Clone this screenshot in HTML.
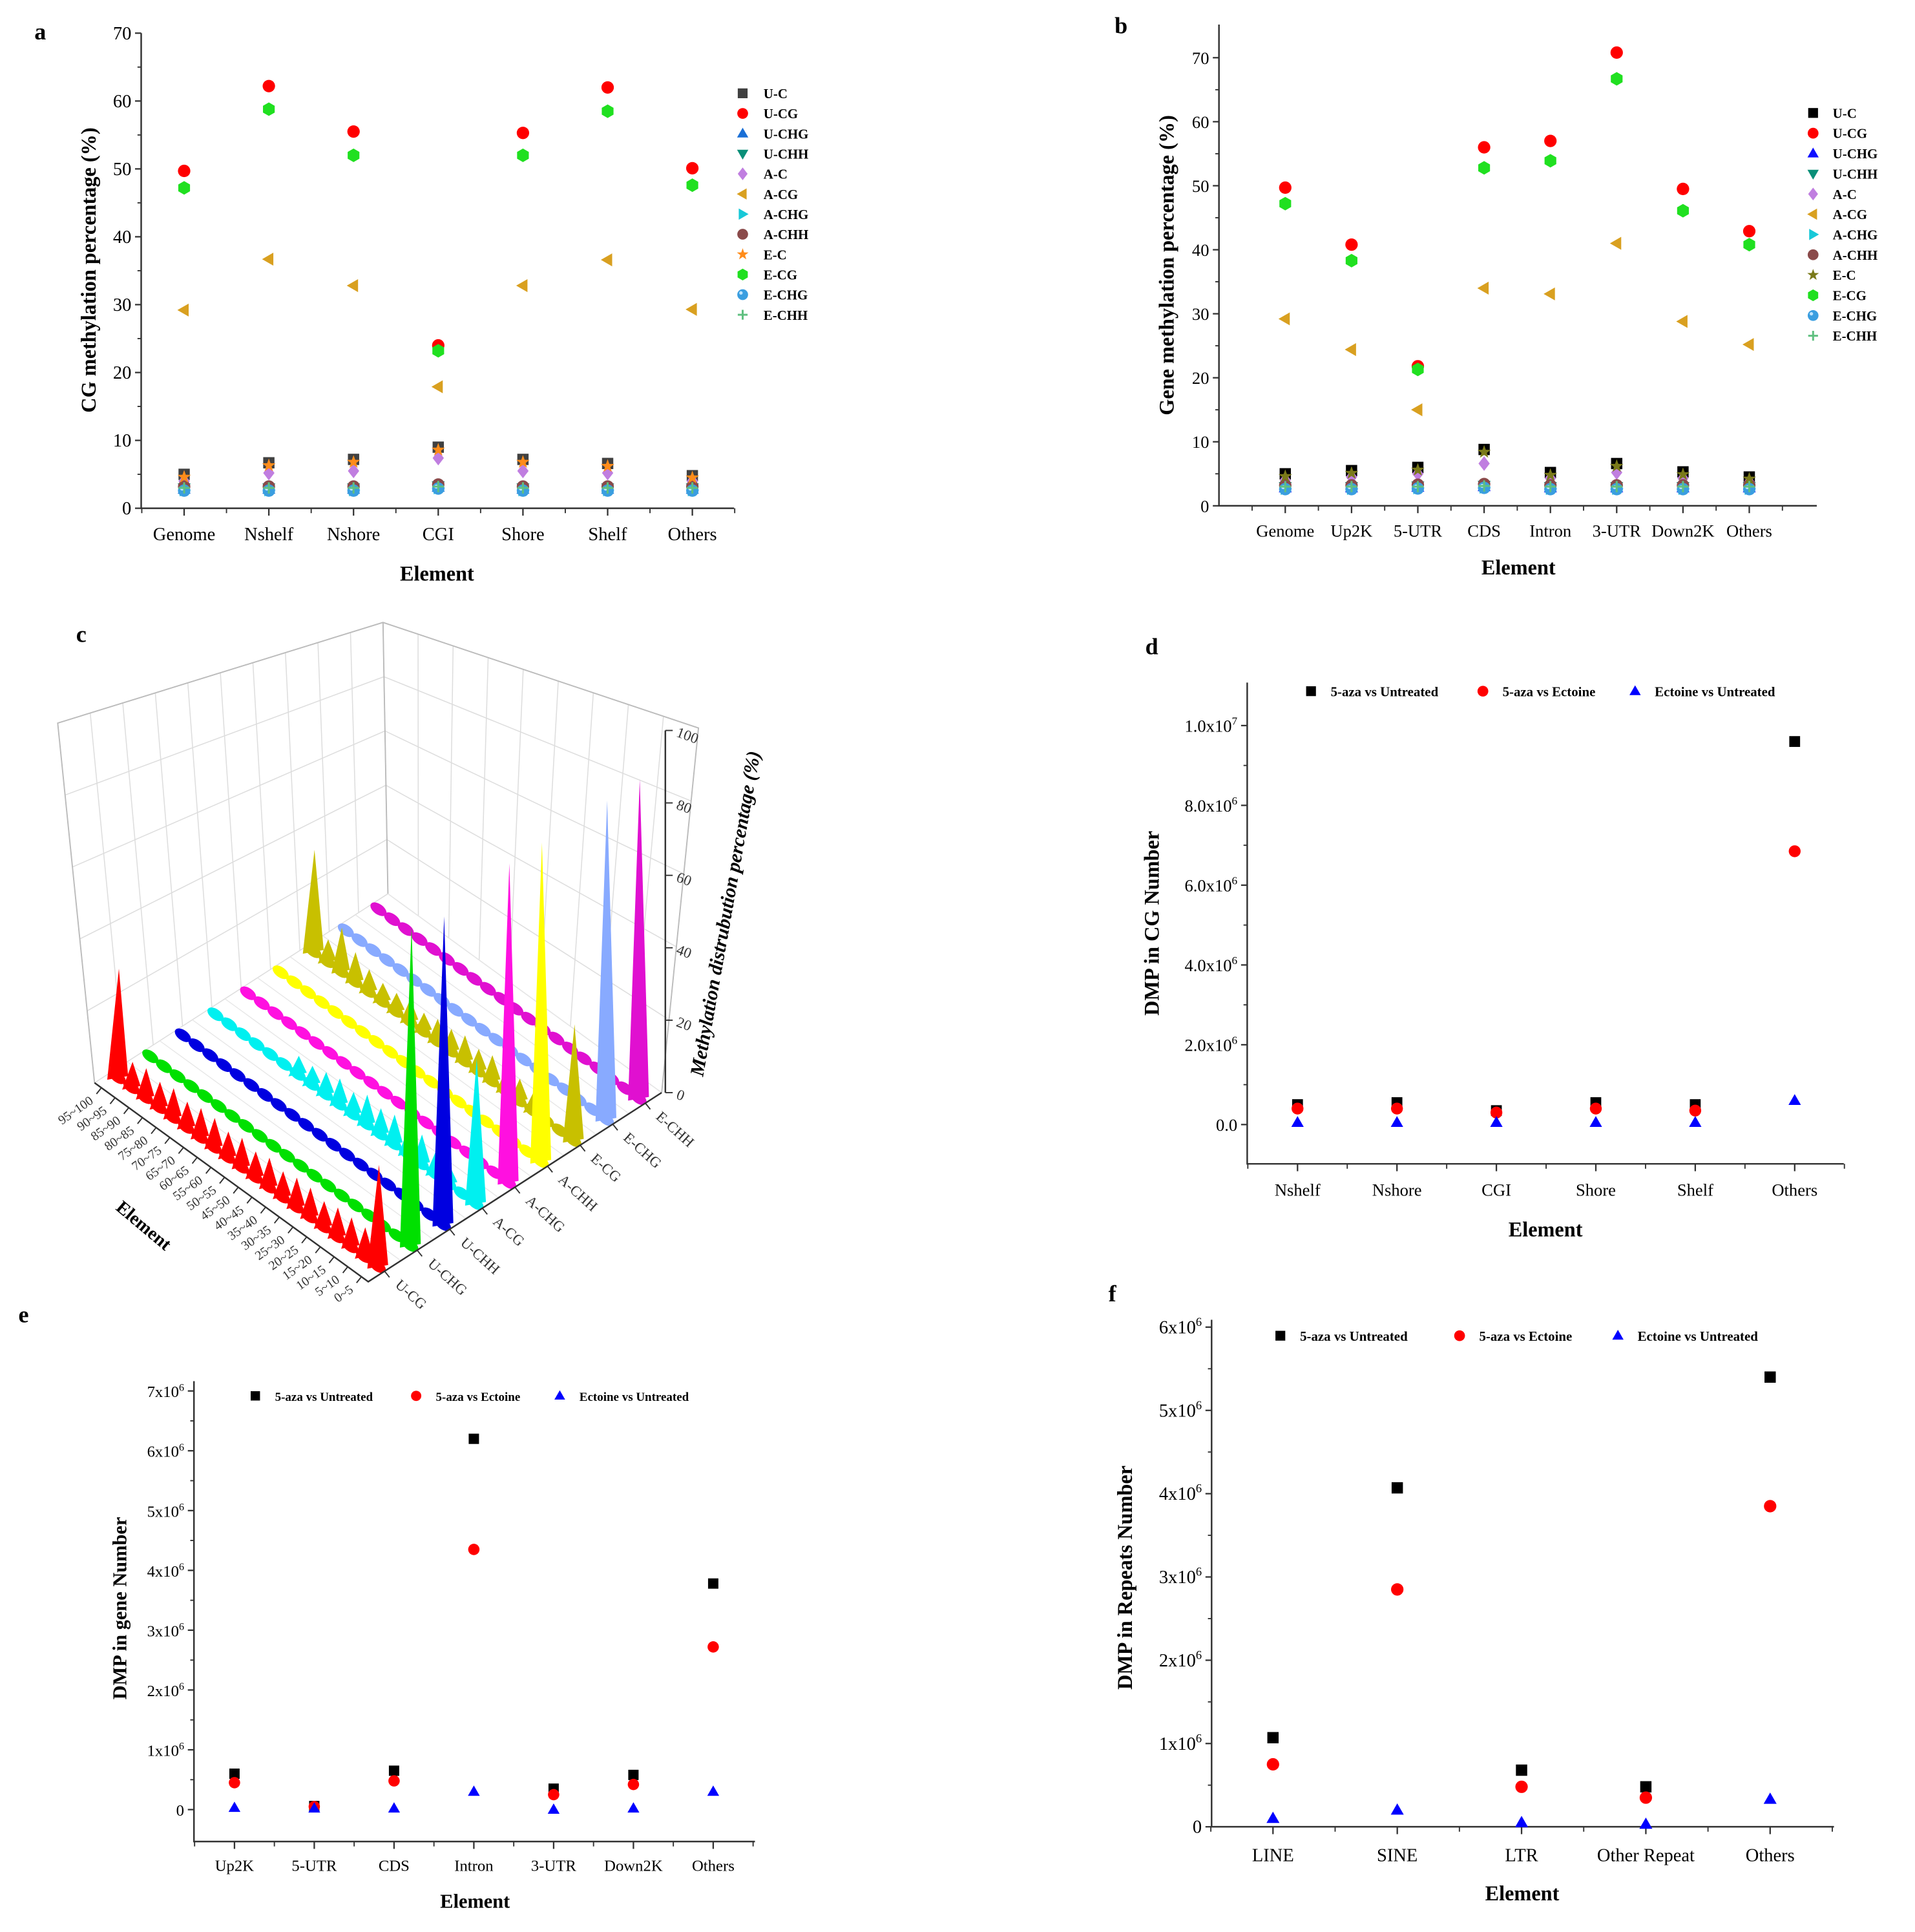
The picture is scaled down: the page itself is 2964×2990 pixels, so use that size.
<!DOCTYPE html>
<html><head><meta charset="utf-8"><style>
html,body{margin:0;padding:0;background:#fff}
svg{display:block}
text{font-family:"Liberation Serif",serif}
</style></head><body>
<svg id="root" width="2964" height="2990" viewBox="0 0 1560 1573.7" xmlns="http://www.w3.org/2000/svg">
<rect width="1560" height="1574" fill="#fff"/>
<g id="ga"></g>
<g id="gb"></g>
<g id="gc"></g>
<g id="gd"></g>
<g id="ge"></g>
<g id="gf"></g>
</svg>
<script>
// ---------- data ----------
const aCats = ["Genome","Nshelf","Nshore","CGI","Shore","Shelf","Others"];
const aUC   = [5.0,6.7,7.2,9.0,7.2,6.6,4.8];
const aUCG  = [49.7,62.2,55.5,24.0,55.3,62.0,50.1];
const aUCHG = [2.8,2.8,2.8,3.1,2.8,2.8,2.8];
const aUCHH = [3.0,3.0,3.0,3.3,3.0,3.0,3.0];
const aAC   = [4.0,5.2,5.5,7.4,5.5,5.2,4.0];
const aACG  = [29.2,36.7,32.8,17.9,32.8,36.6,29.3];
const aACHG = [2.7,2.7,2.7,3.0,2.7,2.7,2.7];
const aACHH = [3.2,3.2,3.2,3.5,3.2,3.2,3.2];
const aEC   = [4.6,6.3,6.8,8.6,6.8,6.2,4.5];
const aECG  = [47.2,58.8,52.0,23.2,52.0,58.5,47.6];
const aECHG = [2.6,2.6,2.6,2.9,2.6,2.6,2.6];
const aECHH = [3.0,3.0,3.0,3.2,3.0,3.0,3.0];
const aTicks = [0,10,20,30,40,50,60,70];

const bCats = ["Genome","Up2K","5-UTR","CDS","Intron","3-UTR","Down2K","Others"];
const bUC   = [5.0,5.5,6.0,8.8,5.2,6.6,5.3,4.5];
const bUCG  = [49.7,40.8,21.8,56.0,57.0,70.8,49.5,42.9];
const bUCHG = [2.8,2.8,2.9,3.0,2.8,2.8,2.8,2.8];
const bUCHH = [3.0,3.0,3.1,3.2,3.0,3.0,3.0,3.0];
const bAC   = [4.0,4.5,5.0,6.6,4.3,5.2,4.3,3.7];
const bACG  = [29.2,24.4,15.0,34.0,33.1,41.0,28.8,25.2];
const bACHG = [2.7,2.7,2.8,2.9,2.7,2.7,2.7,2.7];
const bACHH = [3.2,3.2,3.3,3.4,3.2,3.2,3.2,3.2];
const bEC   = [4.6,5.1,5.6,8.4,4.8,6.2,4.9,4.2];
const bECG  = [47.2,38.3,21.3,52.8,53.9,66.7,46.1,40.8];
const bECHG = [2.6,2.6,2.7,2.8,2.6,2.6,2.6,2.6];
const bECHH = [3.0,3.0,3.0,3.1,3.0,3.0,3.0,3.0];
const bTicks = [0,10,20,30,40,50,60,70];

const dCats = ["Nshelf","Nshore","CGI","Shore","Shelf","Others"];
const dBlack = [0.50,0.55,0.35,0.55,0.50,9.60];
const dRed   = [0.40,0.40,0.30,0.40,0.35,6.85];
const dBlue  = [0.05,0.05,0.05,0.05,0.05,0.60];
const dTicks = [0,2,4,6,8,10];

const eCats = ["Up2K","5-UTR","CDS","Intron","3-UTR","Down2K","Others"];
const eBlack = [0.60,0.06,0.65,6.20,0.35,0.58,3.78];
const eRed   = [0.45,0.05,0.48,4.35,0.25,0.42,2.72];
const eBlue  = [0.03,0.02,0.02,0.30,0.00,0.02,0.30];
const eTicks = [0,1,2,3,4,5,6,7];

const fCats = ["LINE","SINE","LTR","Other Repeat","Others"];
const fBlack = [1.07,4.07,0.68,0.48,5.40];
const fRed   = [0.75,2.85,0.48,0.35,3.85];
const fBlue  = [0.10,0.20,0.05,0.03,0.33];
const fTicks = [0,1,2,3,4,5,6];

const cBins = ["0~5","5~10","10~15","15~20","20~25","25~30","30~35","35~40","40~45","45~50","50~55","55~60","60~65","65~70","70~75","75~80","80~85","85~90","90~95","95~100"];
const cRows = ["U-CG","U-CHG","U-CHH","A-CG","A-CHG","A-CHH","E-CG","E-CHG","E-CHH"];
const cColors = ["#ff0000","#00e000","#0000e0","#00f0f0","#ff10e0","#ffff00","#c8c000","#88aaff","#e010d0"];
const cU_CG  = [28,8,8,8,7,8,8,7,8,7,8,7,8,8,7,8,7,8,7,30];
const cU_CHG = [88,3,3,3,3,3,3,3,3,3,3,3,3,3,3,3,3,3,3,3];
const cU_CHH = [85,3,3,3,3,3,3,3,3,3,3,3,3,3,3,3,3,3,3,3];
const cA_CG  = [40,4,5,6,8,7,8,7,8,6,7,6,5,5,4,4,3,3,3,3];
const cA_CHG = [88,3,3,3,3,3,3,3,3,3,3,3,3,3,3,3,3,3,3,3];
const cA_CHH = [88,3,3,3,3,3,3,3,3,3,3,3,3,3,3,3,3,3,3,3];
const cE_CG  = [32,3,4,5,6,6,7,6,7,6,6,5,6,5,5,6,8,12,6,28];
const cE_CHG = [88,3,3,3,3,3,3,3,3,3,3,3,3,3,3,3,3,3,3,3];
const cE_CHH = [88,3,3,3,3,3,3,3,3,3,3,3,3,3,3,3,3,3,3,3];
const cZTicks = [0,20,40,60,80,100];

// ---------- helpers ----------
const NS="http://www.w3.org/2000/svg";
function mk(parent,tag,attrs,txt){const e=document.createElementNS(NS,tag);for(const k in attrs)e.setAttribute(k,attrs[k]);if(txt!==undefined)e.textContent=txt;parent.appendChild(e);return e;}
function marker(g,shape,x,y,s,col){
  let e;
  if(shape==="square") e=mk(g,"rect",{x:x-s,y:y-s,width:2*s,height:2*s,fill:col});
  else if(shape==="circle") e=mk(g,"circle",{cx:x,cy:y,r:s*1.1,fill:col});
  else if(shape==="sphere"){e=mk(g,"circle",{cx:x,cy:y,r:s*1.1,fill:col});mk(g,"circle",{cx:x-s*0.35,cy:y-s*0.35,r:s*0.35,fill:"#bfe4ff"});}
  else if(shape==="up") e=mk(g,"polygon",{points:`${x},${y-s*1.2} ${x+s*1.15},${y+s*0.8} ${x-s*1.15},${y+s*0.8}`,fill:col});
  else if(shape==="down") e=mk(g,"polygon",{points:`${x},${y+s*1.2} ${x+s*1.15},${y-s*0.8} ${x-s*1.15},${y-s*0.8}`,fill:col});
  else if(shape==="left") e=mk(g,"polygon",{points:`${x-s*1.2},${y} ${x+s*0.8},${y-s*1.15} ${x+s*0.8},${y+s*1.15}`,fill:col});
  else if(shape==="right") e=mk(g,"polygon",{points:`${x+s*1.2},${y} ${x-s*0.8},${y-s*1.15} ${x-s*0.8},${y+s*1.15}`,fill:col});
  else if(shape==="diamond") e=mk(g,"polygon",{points:`${x},${y-s*1.3} ${x+s},${y} ${x},${y+s*1.3} ${x-s},${y}`,fill:col});
  else if(shape==="hex"){let p=[];for(let i=0;i<6;i++){const a=Math.PI/6+i*Math.PI/3;p.push((x+s*1.2*Math.cos(a))+","+(y+s*1.2*Math.sin(a)));}e=mk(g,"polygon",{points:p.join(" "),fill:col});}
  else if(shape==="star"){let p=[];for(let i=0;i<10;i++){const r=i%2?s*0.5:s*1.25;const a=-Math.PI/2+i*Math.PI/5;p.push((x+r*Math.cos(a))+","+(y+r*Math.sin(a)));}e=mk(g,"polygon",{points:p.join(" "),fill:col});}
  else if(shape==="plus") e=mk(g,"path",{d:`M${x-s} ${y}H${x+s}M${x} ${y-s}V${y+s}`,stroke:col,"stroke-width":1.6,fill:"none"});
  return e;
}
function sup(g,x,y,mant,exp,size,anchor){
  const t=mk(g,"text",{x:x,y:y,"font-size":size,"text-anchor":anchor||"end"});
  
  
  if(exp===null){t.textContent=mant;return t;}
  mk(t,"tspan",{},mant+"x10");
  mk(t,"tspan",{"font-size":size*0.65,dy:-size*0.4},String(exp));
  return t;
}

function panel(g,cfg){
  const y=v=>cfg.y0-(v-cfg.vmin)/(cfg.vmax-cfg.vmin)*(cfg.y0-cfg.y1);
  const xs=i=>cfg.cx0+i*cfg.dx;
  const ax=mk(g,"path",{d:`M${cfg.ax} ${cfg.ytop}V${cfg.axy}H${cfg.axEnd}`,stroke:"#333","stroke-width":1.3,fill:"none"});
  
  
  cfg.ticks.forEach((t,i)=>{
    const yy=y(t*cfg.tickMul);
    mk(g,"line",{x1:cfg.ax-5,x2:cfg.ax,y1:yy,y2:yy,stroke:"#333","stroke-width":1.2});
    if(cfg.minor && i<cfg.ticks.length-1){const ym=y((t+cfg.ticks[1]/2)*cfg.tickMul);mk(g,"line",{x1:cfg.ax-3,x2:cfg.ax,y1:ym,y2:ym,stroke:"#333","stroke-width":1});}
    const lab=cfg.tickLabel(t);
    if(lab.exp===undefined){const tt=mk(g,"text",{x:cfg.ax-8,y:yy+5,"font-size":cfg.fs,"text-anchor":"end"},lab.m);}
    else sup(g,cfg.ax-8,yy+5,lab.m,lab.exp,cfg.fs);
  });
  cfg.cats.forEach((c,i)=>{
    const xx=xs(i);
    mk(g,"line",{x1:xx,x2:xx,y1:cfg.axy,y2:cfg.axy+6,stroke:"#333","stroke-width":1.2});
    mk(g,"line",{x1:xx+cfg.dx/2,x2:xx+cfg.dx/2,y1:cfg.axy,y2:cfg.axy+4,stroke:"#333","stroke-width":1});
    if(i===0) mk(g,"line",{x1:xx-cfg.dx/2,x2:xx-cfg.dx/2,y1:cfg.axy,y2:cfg.axy+4,stroke:"#333","stroke-width":1});
    const t=mk(g,"text",{x:xx,y:cfg.axy+cfg.xlabOff,"font-size":cfg.fs,"text-anchor":"middle"},c);
    
    
  });
  const yt=mk(g,"text",{x:cfg.ytx,y:cfg.yty,"font-size":cfg.tfs,"font-weight":"bold","text-anchor":"middle",transform:`rotate(-90 ${cfg.ytx} ${cfg.yty})`},cfg.ytitle);
  
  
  const xt=mk(g,"text",{x:cfg.xtx,y:cfg.xty,"font-size":cfg.tfs,"font-weight":"bold","text-anchor":"middle"},"Element");
  
  
  const pl=mk(g,"text",{x:cfg.lx,y:cfg.ly,"font-size":19,"font-weight":"bold","font-family":"Liberation Sans, sans-serif"},cfg.letter);
  
  
  cfg.series.forEach((s,si)=>{
    const sg=mk(g,"g",{});
    
    
    s.vals.forEach((v,i)=>{
      const m=marker(sg,s.shape,xs(i),y(v*cfg.valMul),cfg.ms,s.col);
      
      
    });
    const lg=mk(g,"g",{});
    
    
    const lx=cfg.legX[si], ly=cfg.legY[si];
    marker(lg,s.shape,lx,ly,cfg.lms,s.col);
    mk(lg,"text",{x:lx+cfg.legTx,y:ly+4,"font-size":cfg.lfs,"font-weight":"bold"},s.name);
  });
}

const shapesA=["square","circle","up","down","diamond","left","right","circle","star","hex","sphere","plus"];
const namesA=["U-C","U-CG","U-CHG","U-CHH","A-C","A-CG","A-CHG","A-CHH","E-C","E-CG","E-CHG","E-CHH"];
const colsA=["#404040","#ff0000","#1a6fd6","#0a8f78","#c07ee0","#d9a020","#18c8d8","#8a4a4a","#ff8c1a","#20e020","#3a9ee0","#60c080"];
const colsB=["#000000","#ff0000","#1010ff","#0a8f78","#c07ee0","#d9a020","#18c8d8","#8a4a4a","#7a7a1a","#20e020","#3a9ee0","#60c080"];
const valsA=[aUC,aUCG,aUCHG,aUCHH,aAC,aACG,aACHG,aACHH,aEC,aECG,aECHG,aECHH];
const valsB=[bUC,bUCG,bUCHG,bUCHH,bAC,bACG,bACHG,bACHH,bEC,bECG,bECHG,bECHH];

panel(document.getElementById("ga"),{cats:aCats,ticks:aTicks,tickMul:1,valMul:1,vmin:0,vmax:70,y0:414,y1:27,ytop:27,axy:414,ax:115,axEnd:598,cx0:150,dx:69,
  fs:15,tfs:17,ms:4.6,lms:4,lfs:11,minor:true,xlabOff:26,tickLabel:t=>({m:String(t)}),
  ytitle:"CG methylation percentage (%)",ytx:78,yty:220,xtx:356,xty:473,letter:"a",lx:28,ly:32,
  legX:namesA.map(()=>605),legY:namesA.map((n,i)=>76+i*16.4),legTx:17,
  series:namesA.map((n,i)=>({name:n,shape:shapesA[i],col:colsA[i],vals:valsA[i]}))});

panel(document.getElementById("gb"),{cats:bCats,ticks:bTicks,tickMul:1,valMul:1,vmin:0,vmax:70,y0:412,y1:47,ytop:20,axy:412,ax:993,axEnd:1480,cx0:1047,dx:54,
  fs:14,tfs:17,ms:4.6,lms:4,lfs:11,minor:true,xlabOff:25,tickLabel:t=>({m:String(t)}),
  ytitle:"Gene methylation percentage (%)",ytx:956,yty:216,xtx:1237,xty:468,letter:"b",lx:908,ly:27,
  legX:namesA.map(()=>1477),legY:namesA.map((n,i)=>92+i*16.5),legTx:16,
  series:namesA.map((n,i)=>({name:n,shape:shapesA[i],col:colsB[i],vals:valsB[i]}))});

const sh3=["square","circle","up"], col3=["#000","#ff0000","#0000ff"], nm3=["5-aza vs Untreated","5-aza vs Ectoine","Ectoine vs Untreated"];
panel(document.getElementById("gd"),{cats:dCats,ticks:dTicks,tickMul:1,valMul:1,vmin:0,vmax:10,y0:916,y1:591,ytop:556,axy:948,ax:1016,axEnd:1502,cx0:1057,dx:81,
  fs:14,tfs:17,ms:4.4,lms:4,lfs:11,minor:true,xlabOff:26,tickLabel:t=>t===0?{m:"0.0"}:(t===10?{m:"1.0",exp:7}:{m:t.toFixed(1),exp:6}),
  ytitle:"DMP in CG Number",ytx:944,yty:752,xtx:1259,xty:1007,letter:"d",lx:933,ly:533,
  legX:[1068,1208,1332],legY:[563,563,563],legTx:16,
  series:nm3.map((n,i)=>({name:n,shape:sh3[i],col:col3[i],vals:[dBlack,dRed,dBlue][i]}))});

panel(document.getElementById("ge"),{cats:eCats,ticks:eTicks,tickMul:1,valMul:1,vmin:0,vmax:7,y0:1474,y1:1133,ytop:1125,axy:1500,ax:158,axEnd:615,cx0:191,dx:65,
  fs:13,tfs:16,ms:4.2,lms:3.8,lfs:10,minor:true,xlabOff:24,tickLabel:t=>t===0?{m:"0"}:{m:String(t),exp:6},
  ytitle:"DMP in gene Number",ytx:103,yty:1310,xtx:387,xty:1554,letter:"e",lx:15,ly:1077,
  legX:[208,339,456],legY:[1137,1137,1137],legTx:16,
  series:nm3.map((n,i)=>({name:n,shape:sh3[i],col:col3[i],vals:[eBlack,eRed,eBlue][i]}))});

panel(document.getElementById("gf"),{cats:fCats,ticks:fTicks,tickMul:1,valMul:1,vmin:0,vmax:6,y0:1488,y1:1081,ytop:1075,axy:1488,ax:987,axEnd:1494,cx0:1037,dx:101.25,
  fs:15,tfs:17,ms:4.6,lms:4,lfs:11,minor:true,xlabOff:28,tickLabel:t=>t===0?{m:"0"}:{m:String(t),exp:6},
  ytitle:"DMP in Repeats Number",ytx:922,yty:1285,xtx:1240,xty:1548,letter:"f",lx:903,ly:1060,
  legX:[1043,1189,1318],legY:[1088,1088,1088],legTx:16,
  series:nm3.map((n,i)=>({name:n,shape:sh3[i],col:col3[i],vals:[fBlack,fRed,fBlue][i]}))});

// ---------- panel c (3D) ----------
(function(){
  const g=document.getElementById("gc");
  const cData=[cU_CG,cU_CHG,cU_CHH,cA_CG,cA_CHG,cA_CHH,cE_CG,cE_CHG,cE_CHH];
  const F=[300,1044],U=[-223,-162],V=[239,-154],ZS=2.95;
  const P=(b,r)=>[F[0]+U[0]*b/20+V[0]*r/9,F[1]+U[1]*b/20+V[1]*r/9];
  const L=[77,882],B=[316,728],R=[539,890];
  const Lt=[47,589],Bt=[312,507],Rt=[569,593];
  const lerp=(a,b,t)=>[a[0]+(b[0]-a[0])*t,a[1]+(b[1]-a[1])*t];
  const wall=mk(g,"g",{});
  
  
  for(let i=0;i<=10;i++){const a=lerp(L,B,i/10),b=lerp(Lt,Bt,i/10);mk(wall,"line",{x1:a[0],y1:a[1],x2:b[0],y2:b[1],stroke:"#ddd","stroke-width":0.8});}
  for(let i=0;i<=5;i++){const a=lerp(L,Lt,i/5),b=lerp(B,Bt,i/5);mk(wall,"line",{x1:a[0],y1:a[1],x2:b[0],y2:b[1],stroke:"#ddd","stroke-width":0.8});}
  for(let i=0;i<=9;i++){const a=lerp(B,R,i/9),b=lerp(Bt,Rt,i/9);mk(wall,"line",{x1:a[0],y1:a[1],x2:b[0],y2:b[1],stroke:"#ddd","stroke-width":0.8});}
  for(let i=0;i<=5;i++){const a=lerp(B,Bt,i/5),b=lerp(R,Rt,i/5);mk(wall,"line",{x1:a[0],y1:a[1],x2:b[0],y2:b[1],stroke:"#ddd","stroke-width":0.8});}
  mk(wall,"polyline",{points:`${L} ${Lt} ${Bt} ${Rt} ${R}`,fill:"none",stroke:"#bbb","stroke-width":1});
  mk(wall,"line",{x1:B[0],y1:B[1],x2:Bt[0],y2:Bt[1],stroke:"#bbb","stroke-width":1});
  for(let r=0;r<=9;r++){const a=P(0,r),b=P(20,r);mk(wall,"line",{x1:a[0],y1:a[1],x2:b[0],y2:b[1],stroke:"#e6e6e6","stroke-width":0.7});}
  const cells=[];
  cData.forEach((row,r)=>row.forEach((h,b)=>cells.push({r,b,h})));
  cells.sort((p,q)=>(q.r/9+q.b/20)-(p.r/9+p.b/20));
  const mg=mk(g,"g",{});
  
  
  cells.forEach(c=>{
    const p=P(c.b+0.5,c.r+0.5), col=cColors[c.r];
    const hp=c.h*ZS;
    const w=c.h>20?8.5:7.5;
    const e=mk(mg,"ellipse",{cx:p[0],cy:p[1],rx:7.5,ry:4.2,fill:col,transform:`rotate(36 ${p[0]} ${p[1]})`});
    
    
    if(c.h>4){
      const t=mk(mg,"polygon",{points:`${p[0]-w},${p[1]+2} ${p[0]+w},${p[1]-1} ${p[0]+1},${p[1]-hp}`,fill:col});
      
      
    }
  });
  const axg=mk(g,"g",{});
  
  
  mk(axg,"polyline",{points:`${L} ${F} ${R}`,fill:"none",stroke:"#333","stroke-width":1.3});
  cBins.forEach((lab,b)=>{
    const p=P(b+0.5,0);
    mk(axg,"line",{x1:p[0],y1:p[1],x2:p[0]-4,y2:p[1]+5,stroke:"#333","stroke-width":1});
    const t=mk(axg,"text",{x:p[0]-6,y:p[1]+12,"font-size":10.5,"text-anchor":"end",fill:"#333",transform:`rotate(-35 ${p[0]-6} ${p[1]+12})`},lab);
    
    
  });
  cRows.forEach((lab,r)=>{
    const p=P(0,r+0.5);
    mk(axg,"line",{x1:p[0],y1:p[1],x2:p[0]+4,y2:p[1]+5,stroke:"#333","stroke-width":1});
    const t=mk(axg,"text",{x:p[0]+8,y:p[1]+12,"font-size":12,fill:"#333",transform:`rotate(42 ${p[0]+8} ${p[1]+12})`},lab);
    
    
  });
  const zx=R[0]+3,z0=R[1];
  mk(axg,"line",{x1:zx,y1:z0,x2:zx,y2:z0-100*ZS,stroke:"#333","stroke-width":1.3});
  cZTicks.forEach(v=>{
    const yy=z0-v*ZS;
    mk(axg,"line",{x1:zx,x2:zx+6,y1:yy,y2:yy,stroke:"#333","stroke-width":1});
    const t=mk(axg,"text",{x:zx+10,y:yy+5,"font-size":12,fill:"#333",transform:`rotate(20 ${zx+10} ${yy})`},String(v));
    
    
  });
  const zt=mk(axg,"text",{x:596,y:745,"font-size":16,"font-weight":"bold","font-style":"italic","text-anchor":"middle",transform:"rotate(-80 596 745)"},"Methylation distrubution percentage (%)");
  
  
  const et=mk(axg,"text",{x:114,y:1002,"font-size":15,"font-weight":"bold","text-anchor":"middle",transform:"rotate(40 114 1002)"},"Element");
  
  
  const pl=mk(g,"text",{x:62,y:523,"font-size":19,"font-weight":"bold","font-family":"Liberation Sans, sans-serif"},"c");
  
  
})();
</script>
</body></html>
